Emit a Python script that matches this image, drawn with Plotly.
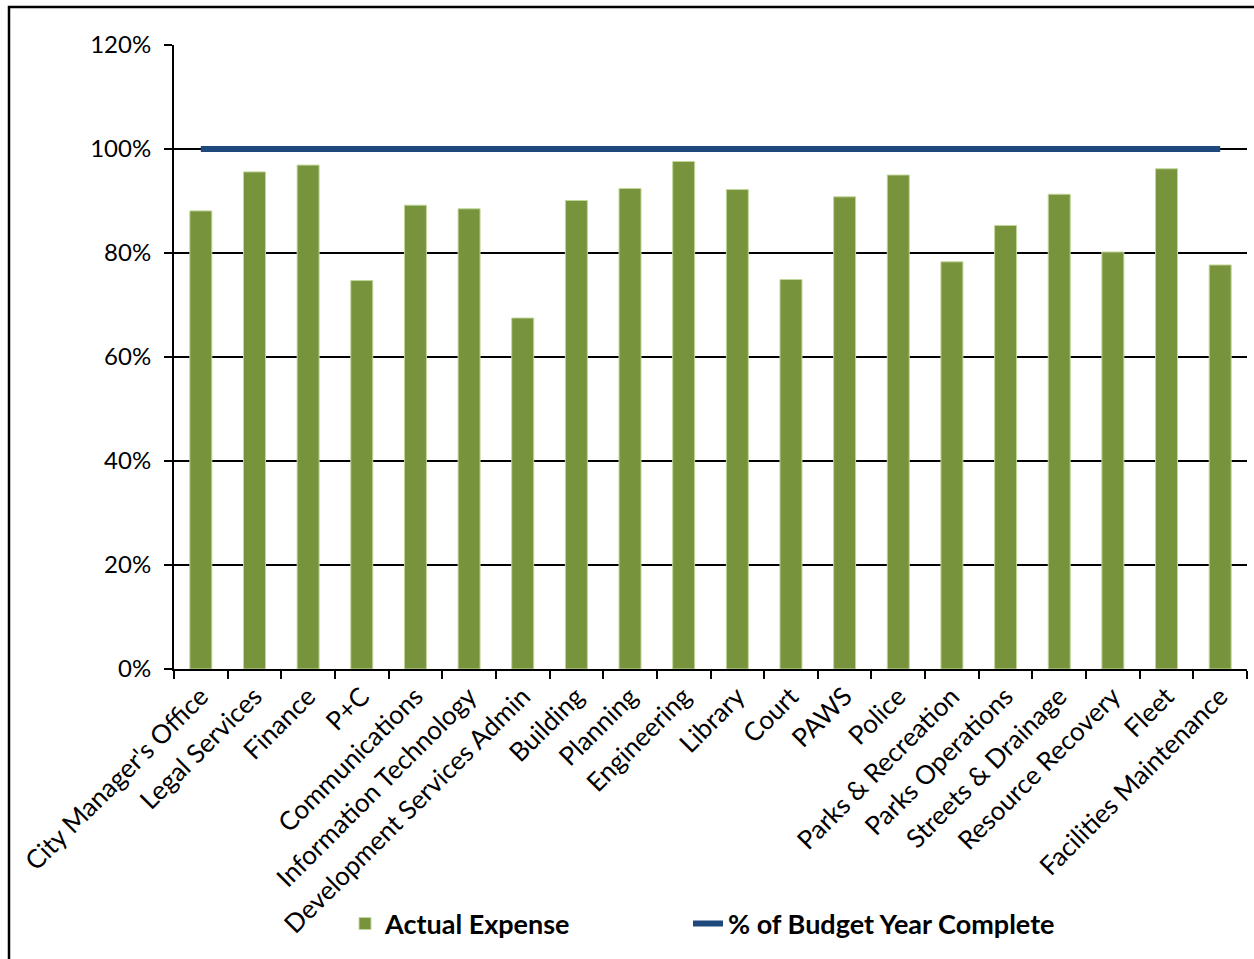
import plotly.graph_objects as go

categories = [
    "City Manager's Office", "Legal Services", "Finance", "P+C", "Communications",
    "Information Technology", "Development Services Admin", "Building", "Planning",
    "Engineering", "Library", "Court", "PAWS", "Police", "Parks & Recreation",
    "Parks Operations", "Streets & Drainage", "Resource Recovery", "Fleet",
    "Facilities Maintenance",
]
actual_expense = [0.881, 0.956, 0.969, 0.747, 0.892, 0.885, 0.675, 0.901, 0.924, 0.976,
                  0.922, 0.749, 0.908, 0.950, 0.783, 0.853, 0.913, 0.802, 0.962, 0.777]
budget_year_complete = [1.0] * 20

FONT = "Lato"
W, H = 1254, 959
ML, MR, MT, MB = 174, 7, 45, 290
PW = W - ML - MR
PH = H - MT - MB

fig = go.Figure()
fig.add_trace(go.Bar(
    x=categories, y=actual_expense, name="Actual Expense",
    marker=dict(color="#77933C", line=dict(color="#C3D69B", width=1)),
    legend="legend",
))
fig.add_trace(go.Scatter(
    x=categories, y=budget_year_complete, name="% of Budget Year Complete",
    mode="lines", line=dict(color="#1F497D", width=6),
    legend="legend2",
))

def px_x(p):
    return (p - ML) / PW

def px_y(p):
    return (H - MB - p) / PH

legend_font = dict(family=FONT, size=27, color="black", weight="bold")

fig.update_layout(
    width=W, height=H, autosize=False,
    margin=dict(l=ML, r=MR, t=MT, b=MB),
    paper_bgcolor="white", plot_bgcolor="white",
    bargap=0.59,
    font=dict(family=FONT, size=24, color="black"),
    showlegend=True,
    legend=dict(
        orientation="h", x=px_x(345), xanchor="left", y=px_y(924), yanchor="middle",
        font=legend_font, bgcolor="rgba(0,0,0,0)",
    ),
    legend2=dict(
        orientation="h", x=px_x(688), xanchor="left", y=px_y(924), yanchor="middle",
        font=legend_font, bgcolor="rgba(0,0,0,0)",
    ),
    xaxis=dict(
        type="category", tickangle=-45, tickson="boundaries",
        ticks="outside", ticklen=8, tickwidth=2, tickcolor="black",
        showline=True, linecolor="black", linewidth=2, showgrid=False,
        tickfont=dict(family=FONT, size=26, color="black"),
    ),
    yaxis=dict(
        range=[0, 1.2], dtick=0.2, tickformat=".0%",
        ticks="outside", ticklen=8, tickwidth=2, tickcolor="black",
        showline=True, linecolor="black", linewidth=2,
        showgrid=True, gridcolor="black", gridwidth=1.5,
        zeroline=False, ticklabelstandoff=8,
        tickfont=dict(family=FONT, size=24, color="black"),
    ),
    shapes=[dict(
        type="rect", xref="paper", yref="paper",
        x0=px_x(9), x1=px_x(1300), y0=px_y(1000), y1=px_y(7),
        line=dict(color="black", width=2.5), fillcolor="rgba(0,0,0,0)", layer="above",
    )],
)

fig.write_html("out.html")
